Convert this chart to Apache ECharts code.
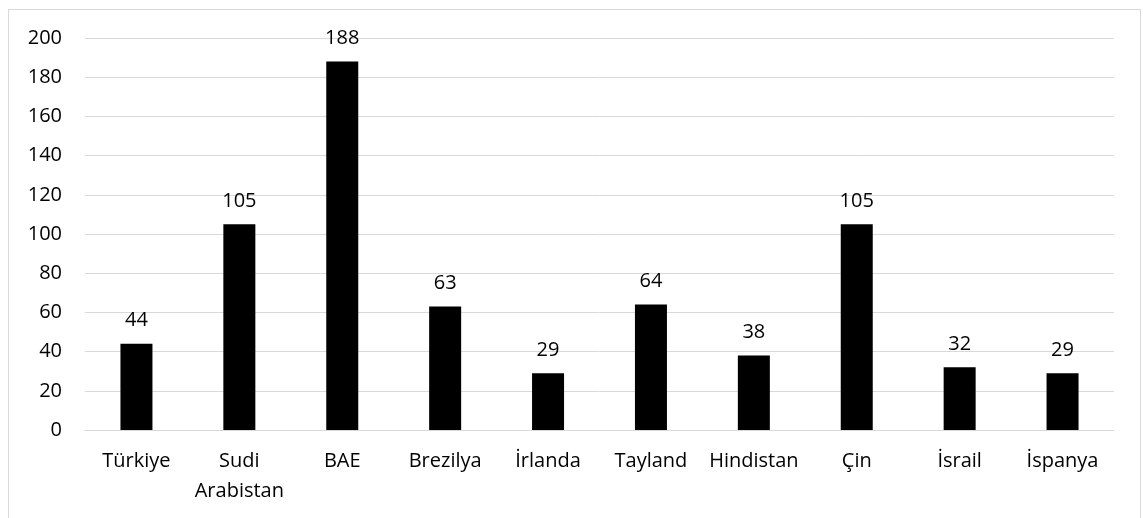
<!DOCTYPE html>
<html>
<head>
<meta charset="utf-8">
<script src="https://cdn.jsdelivr.net/npm/echarts@6/dist/echarts.min.js"></script>
<style>
  html, body { margin: 0; padding: 0; background: #fff; }
  .frame {
    position: absolute; left: 8px; top: 9px; width: 1133px; height: 560px;
    border: 1px solid #d9d9d9; box-sizing: border-box;
  }
  #chart { position: absolute; left: 0; top: 0; width: 1143px; height: 518px; }
</style>
</head>
<body>
<div class="frame"></div>
<div id="chart"></div>
<script>
const categories = ['Türkiye', 'Sudi\nArabistan', 'BAE', 'Brezilya', 'İrlanda', 'Tayland', 'Hindistan', 'Çin', 'İsrail', 'İspanya']
const values = [44, 105, 188, 63, 29, 64, 38, 105, 32, 29]
const yTicks = { min: 0, max: 200, interval: 20 }

const font = '"Open Sans", "Noto Sans", sans-serif'
const myChart = echarts.init(document.getElementById('chart'))
myChart.setOption({
  animation: false,
  grid: { left: 85, right: 29, top: 38, bottom: 88 },
  xAxis: {
    type: 'category',
    data: categories,
    axisTick: { show: false },
    axisLine: { lineStyle: { color: '#d9d9d9', width: 1 } },
    axisLabel: {
      interval: 0,
      color: '#000',
      fontFamily: font,
      fontSize: 20,
      lineHeight: 30,
      margin: 16,
    },
  },
  yAxis: {
    type: 'value',
    min: yTicks.min,
    max: yTicks.max,
    interval: yTicks.interval,
    axisLabel: { color: '#000', fontFamily: font, fontSize: 20, margin: 23 },
    splitLine: { lineStyle: { color: '#d9d9d9', width: 1 } },
  },
  series: [
    {
      type: 'bar',
      data: values,
      barWidth: 32,
      itemStyle: { color: '#000' },
      label: {
        show: true,
        position: 'top',
        distance: 13,
        color: '#000',
        fontFamily: font,
        fontSize: 20,
      },
    },
  ],
})
</script>
</body>
</html>
